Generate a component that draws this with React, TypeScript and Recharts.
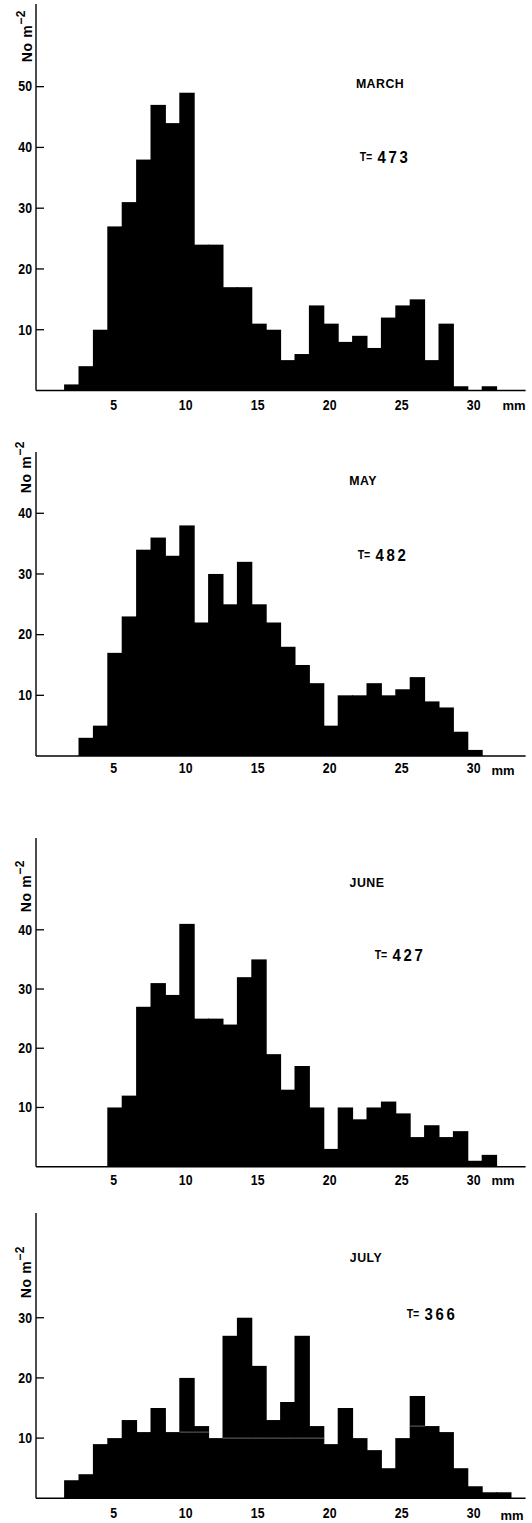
import React from 'react';
import { BarChart, Bar, XAxis, YAxis } from 'recharts';

// size classes in mm (bin centres)
const sizeClasses: number[] = Array.from({ length: 34 }, (_, i) => i);

const marchValues = [0, 0, 1, 4, 10, 27, 31, 38, 47, 44, 49, 24, 24, 17, 17, 11, 10, 5, 6, 14, 11, 8, 9, 7, 12, 14, 15, 5, 11, 0.7, 0, 0.7, 0, 0];
const mayValues = [0, 0, 0, 3, 5, 17, 23, 34, 36, 33, 38, 22, 30, 25, 32, 25, 22, 18, 15, 12, 5, 10, 10, 12, 10, 11, 13, 9, 8, 4, 1, 0, 0, 0];
const juneValues = [0, 0, 0, 0, 0, 10, 12, 27, 31, 29, 41, 25, 25, 24, 32, 35, 19, 13, 17, 10, 3, 10, 8, 10, 11, 9, 5, 7, 5, 6, 1, 2, 0, 0];
const julyValues = [0, 0, 3, 4, 9, 10, 13, 11, 15, 11, 20, 12, 10, 27, 30, 22, 13, 16, 27, 12, 9, 15, 10, 8, 5, 10, 17, 12, 11, 5, 2, 1, 1, 0];
// underlying (base) histogram level visible inside the July bars
const julyBase = [0, 0, 3, 4, 9, 10, 13, 11, 15, 11, 11, 11, 10, 10, 10, 10, 10, 10, 10, 10, 9, 15, 10, 8, 5, 10, 12, 12, 11, 5, 2, 1, 1, 0];

const xTickLabels = [5, 10, 15, 20, 25, 30];
const marchTicks = [10, 20, 30, 40, 50];
const mayTicks = [10, 20, 30, 40];
const juneTicks = [10, 20, 30, 40];
const julyTicks = [10, 20, 30];

const months = ['MARCH', 'MAY', 'JUNE', 'JULY'];
const totals = ['473', '482', '427', '366'];

const FONT = "'Liberation Sans Narrow', 'Liberation Sans', Arial, sans-serif";

const toRows = (vals: number[]) => sizeClasses.map((m, i) => ({ m, v: vals[i] }));
const julyRows = sizeClasses.map((m, i) => ({ m, base: julyBase[i], extra: julyValues[i] - julyBase[i] }));

const AXIS_X = 36;
const BIN_W = 14.4;
const CHART_W = 532;
const PLOT_RIGHT_MARGIN = CHART_W - AXIS_X - BIN_W * sizeClasses.length;

// condensed bold text (horizontal squeeze of a bold sans)
const CText = ({ x, y, anchor = 'middle', size = 14, sx = 0.88, ls = 0, children }: any) => (
  <text transform={`translate(${x},${y}) scale(${sx},1)`} x={0} y={0} textAnchor={anchor}
    dominantBaseline="central" fontFamily={FONT} fontWeight="bold" fontSize={size} letterSpacing={ls} fill="#000">
    {children}
  </text>
);

// full-bin-width black bar (closes sub-pixel gaps between adjacent bins)
const fullBin = (props: any) => {
  const { x, y, width, height } = props;
  if (!height || height <= 0) return <g />;
  const cx = x + width / 2;
  return <rect x={cx - BIN_W / 2 - 0.5} y={y} width={BIN_W + 1} height={height} fill="#000" />;
};

const extraBin = (props: any) => {
  const { x, y, width, height } = props;
  if (!height || height < 0.5) return <g />;
  const cx = x + width / 2;
  return (
    <g>
      <rect x={cx - BIN_W / 2 - 0.5} y={y} width={BIN_W + 1} height={height + 0.3} fill="#000" />
      <line x1={cx - BIN_W / 2 - 0.3} x2={cx + BIN_W / 2 + 0.3} y1={y + height} y2={y + height} stroke="#8a8a8a" strokeWidth={0.7} />
    </g>
  );
};

type PanelProps = {
  rows: any[];
  axisTop: number;
  baseline: number;
  yMax: number;
  yTicks: number[];
  labelDy: number;
  stacked?: boolean;
};

const Panel = ({ rows, axisTop, baseline, yMax, yTicks, labelDy, stacked }: PanelProps) => {
  const plotH = baseline - axisTop;
  const xAxisH = 32;
  const H = plotH + xAxisH;
  const xTick = (props: any) => {
    const m = Number(props.payload.value);
    if (!xTickLabels.includes(m)) return <g />;
    return <CText x={props.x - 1.5} y={plotH + labelDy} size={14}>{m}</CText>;
  };
  const yTick = (props: any) => (
    <g>
      <line x1={AXIS_X} x2={AXIS_X + 8} y1={props.y} y2={props.y} stroke="#000" strokeWidth={1.3} />
      <CText x={AXIS_X - 4} y={props.y} anchor="end" size={14}>{props.payload.value}</CText>
    </g>
  );
  return (
    <div style={{ position: 'absolute', left: 0, top: axisTop, width: CHART_W, height: H }}>
      <BarChart width={CHART_W} height={H} data={rows} barCategoryGap={0} barGap={0}
        margin={{ top: 0, right: PLOT_RIGHT_MARGIN, bottom: 0, left: 0 }}>
        <XAxis dataKey="m" type="category" interval={0} height={xAxisH} tickLine={false}
          axisLine={{ stroke: '#000', strokeWidth: 1.4 }} tick={xTick} />
        <YAxis type="number" domain={[0, yMax]} ticks={yTicks} width={AXIS_X} tickLine={false}
          allowDataOverflow axisLine={{ stroke: '#000', strokeWidth: 1.4 }} tick={yTick} />
        {stacked ? (
          <Bar dataKey="base" stackId="a" fill="#000" shape={fullBin} isAnimationActive={false} />
        ) : null}
        {stacked ? (
          <Bar dataKey="extra" stackId="a" fill="#000" shape={extraBin} isAnimationActive={false} />
        ) : (
          <Bar dataKey="v" fill="#000" shape={fullBin} isAnimationActive={false} />
        )}
      </BarChart>
    </div>
  );
};

const YLabel = ({ x, y }: { x: number; y: number }) => (
  <text x={x} y={y} transform={`rotate(-90, ${x}, ${y})`} textAnchor="middle" dominantBaseline="central"
    fontFamily={FONT} fontWeight="bold" fontSize={14} fill="#000" letterSpacing={0.6}>
    No m<tspan dy={-6} fontSize={12}>−2</tspan>
  </text>
);

const Title = ({ x, y, text }: { x: number; y: number; text: string }) => (
  <CText x={x} y={y} size={13} sx={0.95} ls={0.5}>{text}</CText>
);

const Total = ({ x, y, text }: { x: number; y: number; text: string }) => (
  <text transform={`translate(${x},${y}) scale(0.88,1)`} textAnchor="middle" dominantBaseline="central"
    fontFamily={FONT} fontWeight="bold" fill="#000">
    <tspan fontSize={12}>T=</tspan>
    <tspan fontSize={17} dx={6} letterSpacing={3}>{text}</tspan>
  </text>
);

const MM = ({ x, y }: { x: number; y: number }) => (
  <text x={x} y={y} textAnchor="middle" dominantBaseline="central" fontFamily={FONT} fontWeight="bold"
    fontSize={13} fill="#000">mm</text>
);

export default function App() {
  return (
    <div style={{ position: 'absolute', left: 0, top: 0, width: 532, height: 1523, background: '#fff' }}>
      <Panel rows={toRows(marchValues)} axisTop={4} baseline={390.5} yMax={63.6} yTicks={marchTicks} labelDy={15} />
      <Panel rows={toRows(mayValues)} axisTop={452} baseline={756} yMax={50.1} yTicks={mayTicks} labelDy={12} />
      <Panel rows={toRows(juneValues)} axisTop={838} baseline={1166.7} yMax={55.5} yTicks={juneTicks} labelDy={13.5} />
      <Panel rows={julyRows} axisTop={1213} baseline={1498.3} yMax={47.4} yTicks={julyTicks} labelDy={15} stacked />
      <svg width={532} height={1523} style={{ position: 'absolute', left: 0, top: 0, pointerEvents: 'none' }}>
        <YLabel x={27} y={36} />
        <Title x={380} y={84} text={months[0]} />
        <Total x={385} y={157} text={totals[0]} />
        <MM x={514} y={405} />

        <YLabel x={26} y={467} />
        <Title x={363} y={481} text={months[1]} />
        <Total x={383} y={555} text={totals[1]} />
        <MM x={503} y={770} />

        <YLabel x={26} y={886} />
        <Title x={367} y={883} text={months[2]} />
        <Total x={400} y={955} text={totals[2]} />
        <MM x={503} y={1180} />

        <YLabel x={26} y={1272} />
        <Title x={366} y={1258} text={months[3]} />
        <Total x={432} y={1314} text={totals[3]} />
        <MM x={512} y={1515} />
      </svg>
    </div>
  );
}
